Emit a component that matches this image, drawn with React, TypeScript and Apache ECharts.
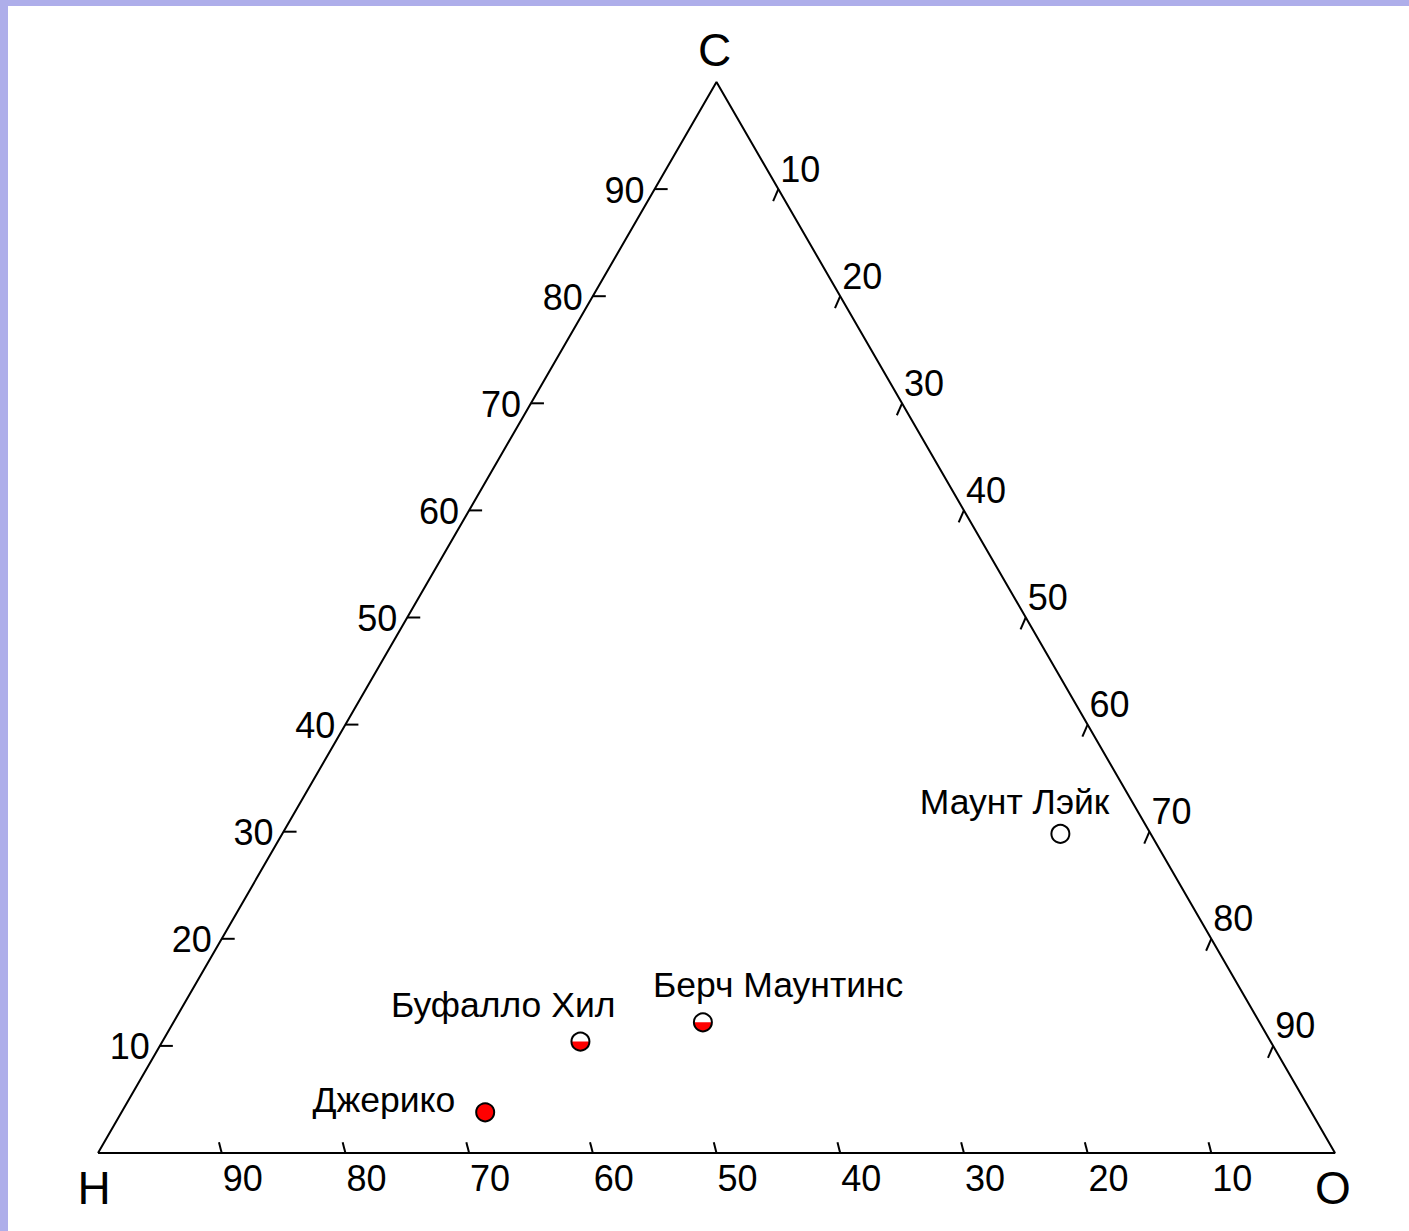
import React, { useEffect, useRef } from "react";
import * as echarts from "echarts";

// ---- Data ----
const vertexNames = ["H", "O", "C"];
const sampleNames = ["Джерико", "Буфалло Хил", "Берч Маунтинс", "Маунт Лэйк"];
const hydrogen = [66.8, 55.8, 45.0, 7.3];
const carbon = [3.8, 10.4, 12.2, 29.8];
const oxygen = [29.4, 33.8, 42.8, 62.9];
const fillFraction = [1, 0.5, 0.5, 0];
const hTicks = [90, 80, 70, 60, 50, 40, 30, 20, 10];
const cTicks = [10, 20, 30, 40, 50, 60, 70, 80, 90];
const oTicks = [10, 20, 30, 40, 50, 60, 70, 80, 90];

// ---- Layout / style (not data) ----
const FONT = "'Liberation Sans', Arial, sans-serif";
const TICK_FONT = 36;
const POINT_FONT = 35.5;
const VERTEX_FONT = 46;
// [dx, dy, align] for each sample label
const sampleLabelLayout: [number, number, string][] = [
  [-30, -12, "right"],
  [35, -37, "right"],
  [-50, -37, "left"],
  [49, -32, "right"],
];
const vertexLabelLayout: [number, number][] = [
  [-4, 35],
  [-2, 35],
  [-2, -32],
];

// ternary (H, C, O) -> cartesian (x = O + C/2, y = C)
const toXY = (h: number, c: number, o: number) => [o + c / 2, c];

export default function App() {
  const ref = useRef<HTMLDivElement>(null);
  useEffect(() => {
    if (!ref.current) return;
    const chart = echarts.init(ref.current, undefined, { renderer: "svg" });

    const vertices = [toXY(100, 0, 0), toXY(0, 0, 100), toXY(0, 100, 0)];
    const triangle = [vertices[0], vertices[1], vertices[2], vertices[0]];

    const hData = hTicks.map((h) => [...toXY(h, 0, 100 - h), h]);
    const cData = cTicks.map((c) => [...toXY(100 - c, c, 0), c]);
    const oData = oTicks.map((o) => [...toXY(0, 100 - o, o), o]);

    const tickSeries = (
      data: number[][],
      dir: [number, number],
      len: number,
      lab: [number, number, string]
    ) => ({
      type: "custom",
      coordinateSystem: "cartesian2d",
      clip: false,
      silent: true,
      encode: { x: 0, y: 1 },
      data,
      z: 3,
      renderItem: (params: any, api: any) => {
        const p = api.coord([api.value(0), api.value(1)]);
        return {
          type: "group",
          children: [
            {
              type: "line",
              shape: { x1: p[0], y1: p[1], x2: p[0] + dir[0] * len, y2: p[1] + dir[1] * len },
              style: { stroke: "#000", lineWidth: 2 },
            },
            {
              type: "text",
              x: p[0] + lab[0],
              y: p[1] + lab[1],
              style: {
                text: String(api.value(2)),
                fill: "#000",
                fontSize: TICK_FONT,
                fontFamily: FONT,
                align: lab[2],
                verticalAlign: "middle",
              },
            },
          ],
        };
      },
    });

    const sampleData = sampleNames.map((n, i) => [
      ...toXY(hydrogen[i], carbon[i], oxygen[i]),
      fillFraction[i],
      i,
    ]);

    const option: any = {
      animation: false,
      backgroundColor: "#fff",
      grid: { left: 90, top: 76, width: 1237, height: 1071, containLabel: false },
      xAxis: { type: "value", min: 0, max: 100, show: false },
      yAxis: { type: "value", min: 0, max: 100, show: false },
      series: [
        {
          type: "line",
          data: triangle,
          symbol: "none",
          silent: true,
          lineStyle: { color: "#000", width: 2 },
          z: 2,
        },
        tickSeries(hData, [-0.25, -0.97], 11, [1, 25, "left"]),
        tickSeries(cData, [1, 0], 13, [-10, 1, "right"]),
        tickSeries(oData, [-0.4, 0.92], 13, [2, -20, "left"]),
        {
          type: "custom",
          coordinateSystem: "cartesian2d",
          clip: false,
          silent: true,
          encode: { x: 0, y: 1 },
          data: vertices.map((v, i) => [...v, i]),
          renderItem: (params: any, api: any) => {
            const p = api.coord([api.value(0), api.value(1)]);
            const i = api.value(2);
            const off = vertexLabelLayout[i];
            return {
              type: "text",
              x: p[0] + off[0],
              y: p[1] + off[1],
              style: {
                text: vertexNames[i],
                fill: "#000",
                fontSize: VERTEX_FONT,
                fontFamily: FONT,
                align: "center",
                verticalAlign: "middle",
              },
            };
          },
        },
        {
          type: "custom",
          coordinateSystem: "cartesian2d",
          clip: false,
          silent: true,
          encode: { x: 0, y: 1 },
          data: sampleData,
          z: 5,
          renderItem: (params: any, api: any) => {
            const p = api.coord([api.value(0), api.value(1)]);
            const f = api.value(2);
            const i = api.value(3);
            const r = 9;
            const lay = sampleLabelLayout[i];
            const children: any[] = [
              { type: "circle", shape: { cx: p[0], cy: p[1], r }, style: { fill: "#fff" } },
            ];
            if (f >= 1) {
              children.push({ type: "circle", shape: { cx: p[0], cy: p[1], r }, style: { fill: "#ff0000" } });
            } else if (f > 0) {
              children.push({
                type: "sector",
                shape: { cx: p[0], cy: p[1], r0: 0, r, startAngle: 0, endAngle: Math.PI, clockwise: true },
                style: { fill: "#ff0000" },
              });
            }
            children.push({
              type: "circle",
              shape: { cx: p[0], cy: p[1], r },
              style: { fill: "none", stroke: "#000", lineWidth: 2 },
            });
            children.push({
              type: "text",
              x: p[0] + lay[0],
              y: p[1] + lay[1],
              style: {
                text: sampleNames[i],
                fill: "#000",
                fontSize: POINT_FONT,
                fontFamily: FONT,
                align: lay[2],
                verticalAlign: "middle",
              },
            });
            return { type: "group", children };
          },
        },
      ],
    };
    chart.setOption(option);
    return () => chart.dispose();
  }, []);

  return (
    <div
      style={{
        position: "absolute",
        top: 0,
        left: 0,
        width: 1409,
        height: 1231,
        background: "#AEAEEA",
        overflow: "hidden",
      }}
    >
      <div
        ref={ref}
        style={{ position: "absolute", left: 8, top: 6, width: 1401, height: 1225, background: "#fff" }}
      />
    </div>
  );
}
